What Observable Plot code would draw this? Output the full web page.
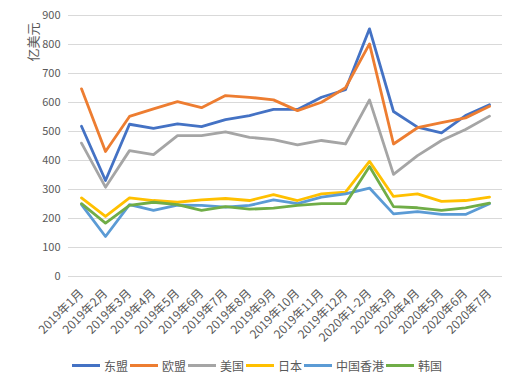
<!DOCTYPE html>
<html>
<head>
<meta charset="utf-8">
<script src="https://cdn.jsdelivr.net/npm/d3@7"></script>
<script src="https://cdn.jsdelivr.net/npm/@observablehq/plot@0.6"></script>
<style>
  html, body { margin: 0; padding: 0; background: #fff; }
  body { width: 516px; height: 386px; overflow: hidden; font-family: "Noto Sans CJK SC", "Noto Sans", sans-serif; }
  #chart svg { display: block; }
  #legend { display: flex; justify-content: center; align-items: center; height: 24px; margin-top: 8px; font-size: 12px; color: #595959; }
  #legend .item { display: flex; align-items: center; margin-right: 2px; }
  #legend .sw { width: 28px; height: 3px; margin-right: 4px; }
</style>
</head>
<body>
<div id="chart"></div>
<div id="legend"></div>
<script>
const months = ["2019年1月","2019年2月","2019年3月","2019年4月","2019年5月","2019年6月","2019年7月","2019年8月","2019年9月","2019年10月","2019年11月","2019年12月","2020年1-2月","2020年3月","2020年4月","2020年5月","2020年6月","2020年7月"];
const seriesNames = ["东盟","欧盟","美国","日本","中国香港","韩国"];
const seriesColors = ["#4472C4","#ED7D31","#A5A5A5","#FFC000","#5B9BD5","#70AD47"];
const asean = [518,331,525,511,526,517,541,555,576,576,618,644,854,569,515,495,555,592];
const eu    = [647,431,552,578,603,582,624,618,609,572,601,651,802,457,513,531,547,587];
const usa   = [460,308,434,420,486,486,499,480,472,454,469,457,609,352,417,469,507,553];
const japan = [271,207,271,262,256,264,269,262,282,262,285,291,397,276,285,259,262,274];
const hk    = [248,138,248,228,246,245,239,245,264,251,274,285,305,216,224,214,214,251];
const korea = [251,184,245,256,248,228,241,232,236,245,251,251,379,241,237,228,237,253];
const yTicks = [0,100,200,300,400,500,600,700,800,900];
const yLabel = "亿美元";

const allSeries = [asean, eu, usa, japan, hk, korea];
const rows = [];
allSeries.forEach((vals, si) => vals.forEach((v, i) => rows.push({series: seriesNames[si], month: months[i], value: v})));

const chart = Plot.plot({
  width: 516,
  height: 345,
  marginTop: 15,
  marginBottom: 69,
  marginLeft: 68,
  marginRight: 14,
  style: {fontFamily: '"Noto Sans CJK SC", "Noto Sans", sans-serif', color: "#595959", background: "#fff"},
  x: {type: "point", domain: months, padding: 0.5, label: null},
  y: {domain: [0, 900], ticks: yTicks, label: null},
  color: {domain: seriesNames, range: seriesColors},
  marks: [
    Plot.gridY(yTicks, {stroke: "#d9d9d9", strokeOpacity: 1, strokeWidth: 1}),
    Plot.axisY({ticks: yTicks, tickSize: 0, tickPadding: 8, fontSize: 11, fill: "#595959", label: null}),
    Plot.axisX({tickSize: 0, tickPadding: 15, tickRotate: -45, fontSize: 12, fill: "#595959", label: null}),
    Plot.line(rows, {x: "month", y: "value", z: "series", stroke: "series", strokeWidth: 2.8, curve: "linear"}),
    Plot.text([yLabel], {frameAnchor: "top-left", rotate: -90, textAnchor: "end", dx: -40, dy: 7, fontSize: 13, fill: "#595959"})
  ]
});
document.getElementById("chart").appendChild(chart);

const legend = document.getElementById("legend");
seriesNames.forEach((n, i) => {
  const it = document.createElement("div");
  it.className = "item";
  const sw = document.createElement("div");
  sw.className = "sw";
  sw.style.background = seriesColors[i];
  const t = document.createElement("span");
  t.textContent = n;
  it.appendChild(sw); it.appendChild(t);
  legend.appendChild(it);
});
</script>
</body>
</html>
